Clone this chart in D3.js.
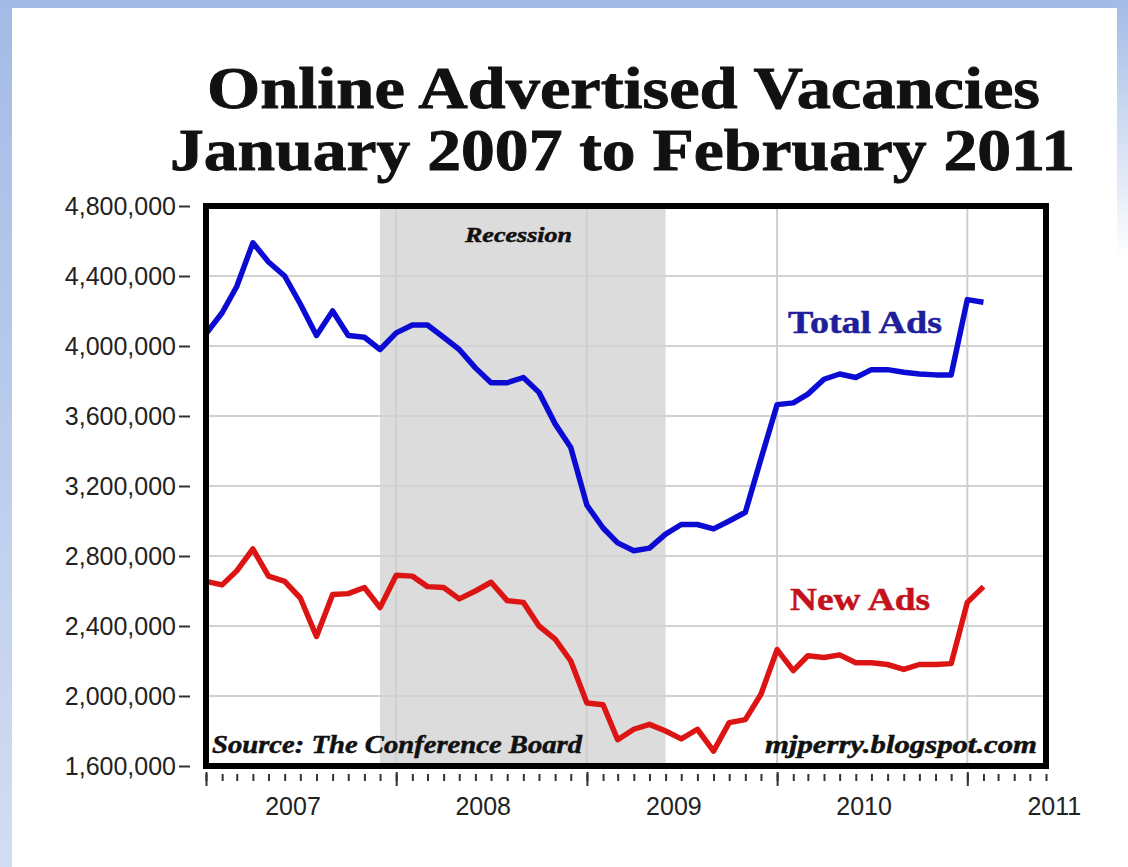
<!DOCTYPE html>
<html>
<head>
<meta charset="utf-8">
<script src="https://cdn.jsdelivr.net/npm/d3@7"></script>
<style>
    body { margin: 0; background: #fff; }
    svg { display: block; }
</style>
</head>
<body>
<svg id="chart" width="1128" height="867"></svg>
<script>
// Months covered by the data (Jan 2007 - Feb 2011)
const months = [
    "2007-01", "2007-02", "2007-03", "2007-04", "2007-05", "2007-06", "2007-07", "2007-08", "2007-09", "2007-10", "2007-11", "2007-12",
    "2008-01", "2008-02", "2008-03", "2008-04", "2008-05", "2008-06", "2008-07", "2008-08", "2008-09", "2008-10", "2008-11", "2008-12",
    "2009-01", "2009-02", "2009-03", "2009-04", "2009-05", "2009-06", "2009-07", "2009-08", "2009-09", "2009-10", "2009-11", "2009-12",
    "2010-01", "2010-02", "2010-03", "2010-04", "2010-05", "2010-06", "2010-07", "2010-08", "2010-09", "2010-10", "2010-11", "2010-12",
    "2011-01", "2011-02"
];

// Total online ads (thousands)
const totalAds = [
    4070, 4190, 4340, 4590, 4480, 4400, 4240, 4060, 4200, 4060, 4050, 3980,
    4075, 4120, 4120, 4050, 3980, 3875, 3790, 3790, 3820, 3735, 3555, 3420,
    3090, 2960, 2875, 2830, 2845, 2925, 2980, 2980, 2955, 3000, 3050, 3355,
    3665, 3675, 3725, 3810, 3840, 3820, 3865, 3865, 3850, 3840, 3835, 3835,
    4265, 4250
];

// New online ads (thousands)
const newAds = [
    2655, 2635, 2715, 2840, 2685, 2655, 2560, 2340, 2580, 2585, 2620, 2505,
    2690, 2685, 2625, 2620, 2555, 2600, 2650, 2545, 2535, 2400, 2325, 2200,
    1960, 1950, 1750, 1810, 1838, 1800, 1755, 1810, 1685, 1848, 1865, 2010,
    2265, 2145, 2230, 2220, 2235, 2190, 2190, 2180, 2152, 2180, 2180, 2185,
    2535, 2625
];

const yTicks = [1600000, 2000000, 2400000, 2800000, 3200000, 3600000, 4000000, 4400000, 4800000];
const yearLabels = ["2007", "2008", "2009", "2010", "2011"];
const recession = ["2007-12", "2009-06"];
const xDomain = ["2007-01", "2011-06"];

const parseMonth = d3.timeParse("%Y-%m");
const width = 1128;
const height = 867;
const margin = { top: 206, right: 82, bottom: 101, left: 206 };
const innerWidth = width - margin.left - margin.right;
const innerHeight = height - margin.top - margin.bottom;
const axisFont = "'Liberation Sans', Arial, sans-serif";

const svg = d3.select("#chart");

// Blue border round the picture
const defs = svg.append("defs");
const leftGrad = defs.append("linearGradient")
    .attr("id", "leftBar").attr("x1", 0).attr("y1", 0).attr("x2", 0).attr("y2", 1);
leftGrad.append("stop").attr("offset", "0%").attr("stop-color", "#a3bbe6");
leftGrad.append("stop").attr("offset", "100%").attr("stop-color", "#d2ddf2");
const rightGrad = defs.append("linearGradient")
    .attr("id", "rightBar").attr("x1", 0).attr("y1", 0).attr("x2", 0).attr("y2", 1);
rightGrad.append("stop").attr("offset", "0%").attr("stop-color", "#a3bbe6");
rightGrad.append("stop").attr("offset", "100%").attr("stop-color", "#ffffff");

svg.append("rect").attr("width", width).attr("height", height).attr("fill", "#fff");
svg.append("rect").attr("width", width).attr("height", 8).attr("fill", "#a3bbe6");
svg.append("rect").attr("width", 12).attr("height", height).attr("fill", "url(#leftBar)");
svg.append("rect").attr("x", 1117).attr("width", 11).attr("height", 260).attr("fill", "url(#rightBar)");

// Title
const titleFont = "'Liberation Serif', 'Times New Roman', serif";
const addTitle = (text, x, y, len) => {
    svg.append("text")
        .text(text)
        .attr("x", x).attr("y", y)
        .attr("textLength", len).attr("lengthAdjust", "spacingAndGlyphs")
        .attr("font-family", titleFont).attr("font-weight", "bold")
        .attr("font-size", 59)
        .attr("fill", "#111")
        .attr("stroke", "#111").attr("stroke-width", 0.9);
};
addTitle("Online Advertised Vacancies", 207, 108, 833);
addTitle("January 2007 to February 2011", 170, 170, 905);

// Scales
const xScale = d3.scaleTime()
    .domain(xDomain.map(parseMonth))
    .range([margin.left, width - margin.right]);
const yScale = d3.scaleLinear()
    .domain([yTicks[0], yTicks[yTicks.length - 1]])
    .range([height - margin.bottom, margin.top]);

// Recession shading
svg.append("rect")
    .attr("x", xScale(parseMonth(recession[0])))
    .attr("y", margin.top)
    .attr("width", xScale(parseMonth(recession[1])) - xScale(parseMonth(recession[0])))
    .attr("height", innerHeight)
    .attr("fill", "#dcdcdc");

// Gridlines
svg.append("g")
    .selectAll("line")
    .data(yTicks)
    .join("line")
    .attr("x1", margin.left).attr("x2", width - margin.right)
    .attr("y1", d => yScale(d)).attr("y2", d => yScale(d))
    .attr("stroke", "#d2d2d2").attr("stroke-width", 2);

const yearStarts = yearLabels.slice(1).map(y => parseMonth(y + "-01"));
svg.append("g")
    .selectAll("line")
    .data(yearStarts)
    .join("line")
    .attr("x1", d => xScale(d)).attr("x2", d => xScale(d))
    .attr("y1", margin.top).attr("y2", height - margin.bottom)
    .attr("stroke", "#cfcfcf").attr("stroke-width", 2);

// Lines
const seriesLine = values => d3.line()
    .x((d, i) => xScale(parseMonth(months[i])))
    .y(d => yScale(d * 1000))(values);

svg.append("path")
    .attr("d", seriesLine(totalAds))
    .attr("fill", "none")
    .attr("stroke", "#0b0bd4")
    .attr("stroke-width", 5.5)
    .attr("stroke-linejoin", "round");

svg.append("path")
    .attr("d", seriesLine(newAds))
    .attr("fill", "none")
    .attr("stroke", "#dc1414")
    .attr("stroke-width", 5.5)
    .attr("stroke-linejoin", "round");

// Frame
svg.append("rect")
    .attr("x", margin.left).attr("y", margin.top)
    .attr("width", innerWidth)
    .attr("height", innerHeight)
    .attr("fill", "none")
    .attr("stroke", "#000")
    .attr("stroke-width", 6);

// Labels inside the plot
const labelFont = "'Liberation Serif', 'Times New Roman', serif";
const addLabel = (text, x, y, len, size, color, italic) => {
    svg.append("text")
        .text(text)
        .attr("x", x).attr("y", y)
        .attr("textLength", len).attr("lengthAdjust", "spacingAndGlyphs")
        .attr("font-family", labelFont)
        .attr("font-weight", "bold")
        .attr("font-style", italic ? "italic" : "normal")
        .attr("font-size", size)
        .attr("fill", color)
        .attr("stroke", color).attr("stroke-width", 0.5);
};
addLabel("Recession", 465, 242, 107, 21, "#111", true);
addLabel("Total Ads", 788, 333, 154, 32, "#1f1f9c", false);
addLabel("New Ads", 790, 610, 140, 32, "#c4121c", false);
addLabel("Source: The Conference Board", 212, 753, 370, 25, "#111", true);
addLabel("mjperry.blogspot.com", 765, 753, 272, 25, "#111", true);

// Y axis ticks, labels placed with the same scale
const leftAxis = d3.axisLeft(yScale)
    .tickValues(yTicks)
    .tickFormat("")
    .tickSize(11);
svg.append("g")
    .attr("transform", `translate(${margin.left - 16},0)`)
    .call(leftAxis)
    .call(g => g.select(".domain").remove())
    .call(g => g.selectAll(".tick text").remove())
    .call(g => g.selectAll(".tick line").attr("stroke", "#333").attr("stroke-width", 2));

svg.append("g")
    .selectAll("text")
    .data(yTicks)
    .join("text")
    .text(d3.format(","))
    .attr("x", margin.left - 30)
    .attr("y", d => yScale(d) + 9)
    .attr("text-anchor", "end")
    .attr("font-family", axisFont)
    .attr("font-size", 25)
    .attr("fill", "#222");

// X axis: monthly minor ticks, yearly major ticks, mid-year labels
const axisY = height - margin.bottom + 8;
const monthAxis = d3.axisBottom(xScale)
    .ticks(d3.timeMonth.every(1))
    .tickSize(7);
svg.append("g")
    .attr("transform", `translate(0,${axisY})`)
    .call(monthAxis)
    .call(g => g.select(".domain").remove())
    .call(g => g.selectAll(".tick text").remove())
    .call(g => g.selectAll(".tick line").attr("stroke", "#333").attr("stroke-width", 2));

const yearAxis = d3.axisBottom(xScale)
    .ticks(d3.timeYear.every(1))
    .tickSize(14);
svg.append("g")
    .attr("transform", `translate(0,${axisY - 2})`)
    .call(yearAxis)
    .call(g => g.select(".domain").remove())
    .call(g => g.selectAll(".tick text").remove())
    .call(g => g.selectAll(".tick line").attr("stroke", "#333").attr("stroke-width", 2));

svg.append("g")
    .selectAll("text")
    .data(yearLabels)
    .join("text")
    .text(d => d)
    .attr("x", d => xScale(parseMonth(d + "-01")) + 87)
    .attr("y", axisY + 41)
    .attr("text-anchor", "middle")
    .attr("font-family", axisFont)
    .attr("font-size", 25)
    .attr("fill", "#222");
</script>
</body>
</html>
